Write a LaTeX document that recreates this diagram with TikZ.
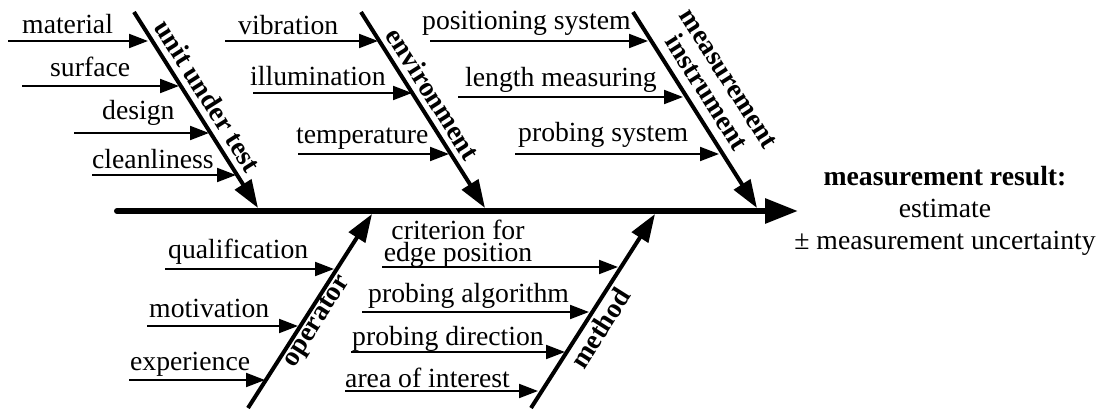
\documentclass[tikz,border=0pt]{standalone}
\usepackage{fontspec}
\setmainfont{Liberation Serif}
\usetikzlibrary{arrows.meta}
\begin{document}
\begin{tikzpicture}[
  x=1pt, y=-1pt,
  every node/.style={font=\fontsize{27.7}{22}\selectfont, inner sep=0pt, anchor=base west},
  cause/.style={-{Triangle[length=19pt,width=14pt]}, line width=2pt},
  bone/.style={-{Triangle[length=28pt,width=19pt]}, line width=4pt},
  spine/.style={-{Triangle[length=33pt,width=24pt]}, line width=6pt, line cap=round},
  bonelabel/.style={font=\fontsize{27.7}{26}\selectfont\bfseries, anchor=center, align=center}
]
\useasboundingbox (0,0) rectangle (1104,412);

% spine and result
\coordinate (s0) at (117,211);
\coordinate (s1) at (798,211);
\draw[spine] (s0) -- (s1);
\node[anchor=center, align=center, font=\fontsize{27.7}{32}\selectfont] (res) at (945,211)
  {\textbf{measurement result:}\\estimate\\± measurement uncertainty};

% bones
\coordinate (u0) at (134,12);  \coordinate (u1) at (258,208);
\coordinate (e0) at (361,12);  \coordinate (e1) at (485,208);
\coordinate (m0) at (633,12);  \coordinate (m1) at (757,208);
\coordinate (o0) at (248,408); \coordinate (o1) at (372,214);
\coordinate (t0) at (531,408); \coordinate (t1) at (655,214);
\draw[bone] (u0) -- (u1);
\draw[bone] (e0) -- (e1);
\draw[bone] (m0) -- (m1);
\draw[bone] (o0) -- (o1);
\draw[bone] (t0) -- (t1);

\node[bonelabel, rotate=-57.7] (unit) at (208,96) {unit under test};
\node[bonelabel, rotate=-57.7] (env) at (433,94) {environment};
\node[bonelabel, rotate=-57.7] (instr) at (717,86) {measurement\\instrument};
\node[bonelabel, rotate=57.7] (oper) at (318,322) {operator};
\node[bonelabel, rotate=57.7] (meth) at (600,328) {method};

% unit under test
\coordinate (a0) at (8,41);    \coordinate (a1) at (148,41);
\coordinate (b0) at (22,86);   \coordinate (b1) at (179,86);
\coordinate (c0) at (74,133);  \coordinate (c1) at (209,133);
\coordinate (d0) at (92,175);  \coordinate (d1) at (236,175);
\node (mat) at (22,34) {material};
\node (surf) at (50,77) {surface};
\node (des) at (102,120) {design};
\node (clean) at (92,168) {cleanliness};
\draw[cause] (a0) -- (a1);
\draw[cause] (b0) -- (b1);
\draw[cause] (c0) -- (c1);
\draw[cause] (d0) -- (d1);

% environment
\coordinate (f0) at (225,41);  \coordinate (f1) at (378,41);
\coordinate (g0) at (253,93);  \coordinate (g1) at (412,93);
\coordinate (h0) at (298,154); \coordinate (h1) at (449,154);
\node (vib) at (238,35) {vibration};
\node (ill) at (250,85) {illumination};
\node (temp) at (296,143) {temperature};
\draw[cause] (f0) -- (f1);
\draw[cause] (g0) -- (g1);
\draw[cause] (h0) -- (h1);

% measurement instrument
\coordinate (i0) at (430,41);  \coordinate (i1) at (648,41);
\coordinate (j0) at (458,97);  \coordinate (j1) at (683,97);
\coordinate (k0) at (515,154); \coordinate (k1) at (719,154);
\node (pos) at (422,30) {positioning system};
\node (len) at (465,87) {length measuring};
\node (prs) at (518,142) {probing system};
\draw[cause] (i0) -- (i1);
\draw[cause] (j0) -- (j1);
\draw[cause] (k0) -- (k1);

% operator
\coordinate (p0) at (165,269); \coordinate (p1) at (334,269);
\coordinate (q0) at (147,326); \coordinate (q1) at (298,326);
\coordinate (r0) at (129,380); \coordinate (r1) at (265,380);
\node (qual) at (168,258) {qualification};
\node (mot) at (149,317) {motivation};
\node (exp) at (130,370) {experience};
\draw[cause] (p0) -- (p1);
\draw[cause] (q0) -- (q1);
\draw[cause] (r0) -- (r1);

% method
\coordinate (v0) at (382,267); \coordinate (v1) at (618,267);
\coordinate (w0) at (362,312); \coordinate (w1) at (589,312);
\coordinate (x0) at (351,352); \coordinate (x1) at (565,352);
\coordinate (y0) at (345,391); \coordinate (y1) at (538,391);
\node[anchor=center, align=center] (crit) at (458,244) {criterion for\\edge position};
\node (alg) at (368,302) {probing algorithm};
\node (dir) at (352,345) {probing direction};
\node (area) at (345,387) {area of interest};
\draw[cause] (v0) -- (v1);
\draw[cause] (w0) -- (w1);
\draw[cause] (x0) -- (x1);
\draw[cause] (y0) -- (y1);
\end{tikzpicture}
\end{document}
